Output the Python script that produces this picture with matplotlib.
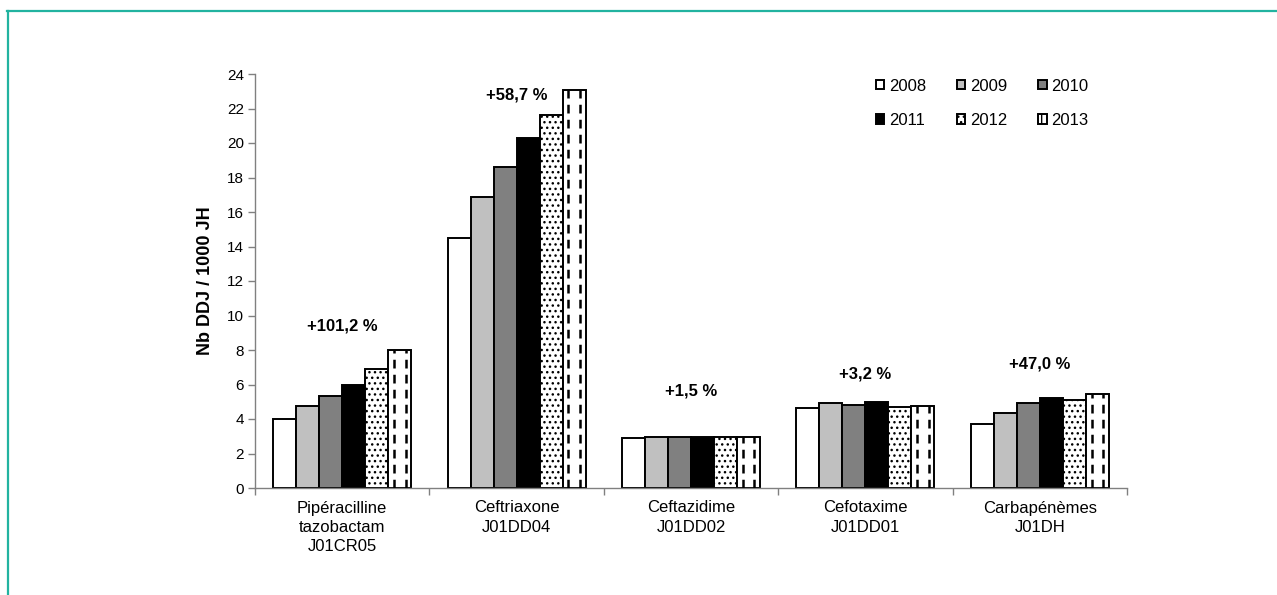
import numpy as np
import matplotlib
matplotlib.use('Agg')
import matplotlib.pyplot as plt
from matplotlib.patches import Patch
from matplotlib.lines import Line2D

plt.rcParams['font.family'] = ['Liberation Sans', 'DejaVu Sans']
plt.rcParams['hatch.linewidth'] = 1.0

# data
groups = ['Pipéracilline\ntazobactam\nJ01CR05', 'Ceftriaxone\nJ01DD04',
          'Ceftazidime\nJ01DD02', 'Cefotaxime\nJ01DD01', 'Carbapénèmes\nJ01DH']
years = ['2008', '2009', '2010', '2011', '2012', '2013']
v2008 = [3.98, 14.52, 2.90, 4.62, 3.72]
v2009 = [4.78, 16.88, 2.95, 4.95, 4.37]
v2010 = [5.35, 18.58, 2.95, 4.81, 4.91]
v2011 = [5.98, 20.28, 2.95, 4.97, 5.22]
v2012 = [6.88, 21.62, 2.93, 4.71, 5.10]
v2013 = [8.01, 23.05, 2.94, 4.77, 5.47]
changes = ['+101,2 %', '+58,7 %', '+1,5 %', '+3,2 %', '+47,0 %']
label_y = [9.4, 22.8, 5.6, 6.6, 7.2]

series = [v2008, v2009, v2010, v2011, v2012, v2013]
fills = ['white', '#c0c0c0', '#808080', 'black', 'white', 'white']
hatches = [None, None, None, None, '...', None]

fig = plt.figure(figsize=(12.77, 5.95), dpi=100)
ax = fig.add_axes([255/1277, 1-488/595, (1127-255)/1277, (488-74)/595])

x = np.arange(len(groups))
w = 0.132
for i, vals in enumerate(series):
    pos = x + (i - 2.5) * w
    ax.bar(pos, vals, width=w, color=fills[i], edgecolor='black',
           linewidth=1.4, hatch=hatches[i], zorder=2)
    if years[i] == '2013':
        # white bars with dashed vertical stripes
        for frac in (0.25, 0.75):
            ax.vlines(pos - w/2 + frac*w, 0, vals, colors='black',
                      linestyles=(0, (3.5, 2.5)), linewidth=1.8, zorder=3)

for xi, txt, yy in zip(x, changes, label_y):
    ax.text(xi, yy, txt, ha='center', va='center', fontsize=12,
            fontweight='bold')

ax.set_xlim(-0.5, len(groups) - 0.5)
ax.set_ylim(0, 24)
ax.set_yticks(np.arange(0, 25, 2))
ax.set_xticks(np.arange(-0.5, len(groups)), minor=False)
ax.set_xticklabels([])
ax.set_xticks(x, minor=True)
ax.set_xticklabels(groups, minor=True, fontsize=12, linespacing=1.35)
ax.tick_params(axis='x', which='minor', length=0, pad=9)
ax.tick_params(axis='x', which='major', length=5, color='#808080', width=1)
ax.tick_params(axis='y', length=5, color='#808080', width=1, labelsize=11, pad=3)
for s in ['top', 'right']:
    ax.spines[s].set_visible(False)
for s in ['left', 'bottom']:
    ax.spines[s].set_color('#808080')
    ax.spines[s].set_linewidth(1)
ax.set_ylabel('Nb DDJ / 1000 JH', fontsize=13, fontweight='bold', labelpad=9)

# legend filled row by row: 2008 2009 2010 / 2011 2012 2013
order = [0, 3, 1, 4, 2, 5]
handles = []
for i in order:
    h = hatches[i] if hatches[i] else ('|' if years[i] == '2013' else None)
    handles.append(Patch(facecolor=fills[i], edgecolor='black', linewidth=1.4, hatch=h))
leg = ax.legend(handles, [years[i] for i in order], ncol=3, frameon=False, fontsize=12,
                loc='upper left', bbox_to_anchor=(0.704, 1.005), borderaxespad=0,
                handlelength=0.5, handleheight=0.5, handletextpad=0.3,
                columnspacing=1.85, labelspacing=1.15)

# teal frame lines around the figure
fig.add_artist(Line2D([7/1277, 1], [1-11/595, 1-11/595], color='#22b3a0', lw=1.6))
fig.add_artist(Line2D([8/1277, 8/1277], [0, 1-11/595], color='#22b3a0', lw=1.6))

fig.savefig('out.png', dpi=100, facecolor='white')
